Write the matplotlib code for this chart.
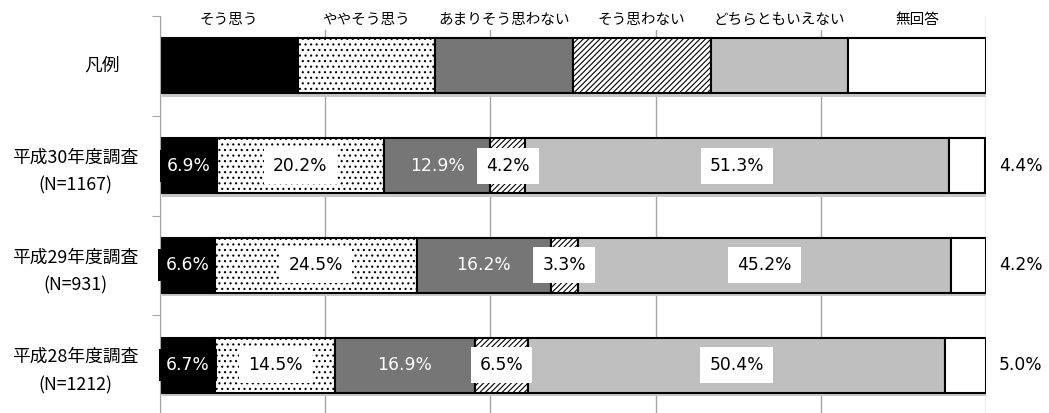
import matplotlib
matplotlib.use("Agg")
import matplotlib.pyplot as plt
import matplotlib.transforms as mtransforms
import numpy as np

plt.rcParams['font.family'] = ['Noto Sans CJK JP', 'DejaVu Sans']
plt.rcParams['hatch.linewidth'] = 0.8

categories = ["凡例", "平成30年度調査\n(N=1167)", "平成29年度調査\n(N=931)", "平成28年度調査\n(N=1212)"]
series_names = ["そう思う", "ややそう思う", "あまりそう思わない", "そう思わない", "どちらともいえない", "無回答"]
legend_values = [100/6]*6
h30 = [6.9, 20.2, 12.9, 4.2, 51.3, 4.4]
h29 = [6.6, 24.5, 16.2, 3.3, 45.2, 4.2]
h28 = [6.7, 14.5, 16.9, 6.5, 50.4, 5.0]
rows = [legend_values, h30, h29, h28]

styles = [
    dict(color="black", hatch=None),
    dict(color="white", hatch="..."),
    dict(color="#767676", hatch=None),
    dict(color="white", hatch="//////"),
    dict(color="#bfbfbf", hatch=None),
    dict(color="white", hatch=None),
]

fig = plt.figure(figsize=(10.49, 4.13), dpi=100)
ax = fig.add_axes([160/1049, -2/413, 826/1049, 399/413])

bar_h = 0.55
pct_fs = 12.3
for i, vals in enumerate(rows):
    left = 0.0
    ax.barh(i + 0.035, sum(vals), left=0.3, height=bar_h, color="#c8c8c8", edgecolor="none", zorder=1.5)
    for j, v in enumerate(vals):
        st = styles[j]
        ax.barh(i, v, left=left, height=bar_h, color=st["color"], hatch=st["hatch"],
                edgecolor="black", linewidth=1.5, zorder=2)
        if i > 0:
            cx = left + v / 2
            txt = f"{v:.1f}%"
            if j == 0:
                ax.text(cx, i, txt, ha="center", va="center", color="white", fontsize=pct_fs,
                        family=["DejaVu Sans"], zorder=4,
                        bbox=dict(facecolor="black", edgecolor="none", pad=5))
            elif j == 2:
                ax.text(cx, i, txt, ha="center", va="center", color="white", fontsize=pct_fs,
                        family=["DejaVu Sans"], zorder=4)
            elif j == 5:
                ax.text(100 + 4.2, i, txt, ha="center", va="center", color="black", fontsize=pct_fs,
                        family=["DejaVu Sans"], zorder=4, clip_on=False)
            else:
                ax.text(cx, i, txt, ha="center", va="center", color="black", fontsize=pct_fs,
                        family=["DejaVu Sans"], zorder=4,
                        bbox=dict(facecolor="white", edgecolor="none", pad=6.5))
        else:
            ax.text(left + v / 2, i - 0.46, series_names[j], ha="center", va="center",
                    fontsize=10.5, zorder=4,
                    bbox=dict(facecolor="white", edgecolor="none", pad=2))
        left += v

ax.set_xlim(0, 100)
ax.set_ylim(3.5, -0.5)
ax.set_xticks([0, 20, 40, 60, 80, 100])
ax.tick_params(axis="x", length=0, labelbottom=False)
ax.grid(axis="x", color="#a6a6a6", linewidth=1, zorder=0)
ax.set_axisbelow(True)

ax.set_yticks([-0.5, 0.5, 1.5, 2.5, 3.5])
ax.set_yticklabels([])
ax.tick_params(axis="y", which="major", length=6, color="#a6a6a6")

trans = mtransforms.blended_transform_factory(ax.transAxes, ax.transData)
for i, lab in enumerate(categories):
    xpos = -0.0702 if i == 0 else -0.1029
    ax.text(xpos, i + 0.06 if i > 0 else i, lab, transform=trans, ha="center", va="center",
            multialignment="center", fontsize=12.8, linespacing=1.7, clip_on=False)

for s in ["top", "right", "bottom"]:
    ax.spines[s].set_visible(False)
ax.spines["left"].set_color("#a6a6a6")

fig.savefig("out.png", dpi=100)
